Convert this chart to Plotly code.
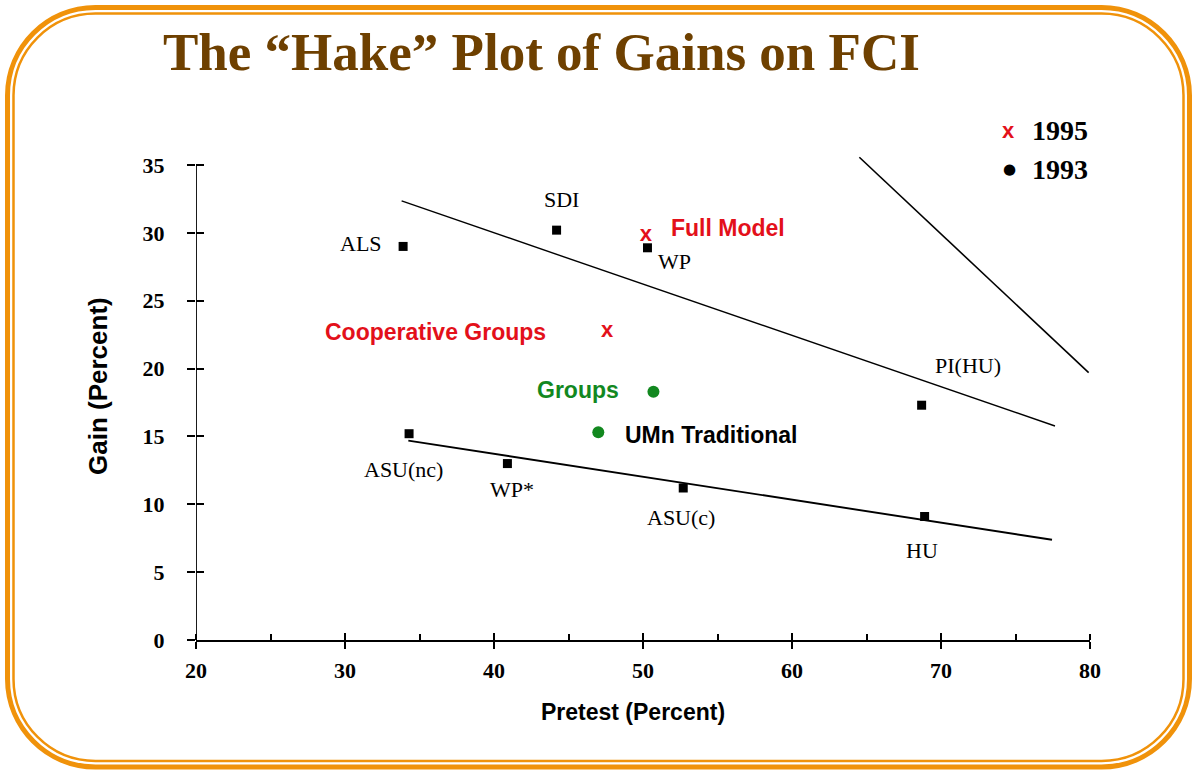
import plotly.graph_objects as go

W, H = 1197, 772

title_text = "The “Hake” Plot of Gains on FCI"
x_title = "Pretest (Percent)"
y_title = "Gain (Percent)"

# 1993 data (black squares)
sq_names = ["ALS", "SDI", "WP", "PI(HU)", "ASU(nc)", "WP*", "ASU(c)", "HU"]
sq_pretest = [33.9, 44.2, 50.3, 68.7, 34.3, 40.9, 52.7, 68.9]
sq_gain = [29.0, 30.2, 28.9, 17.3, 15.2, 13.0, 11.2, 9.1]

# 1995 data (red x)
x95_names = ["Full Model", "Cooperative Groups"]
x95_pretest = [50.2, 47.6]
x95_gain = [29.8, 22.7]

# 1993 UMn data (green dots)
g93_names = ["Groups", "UMn Traditional"]
g93_pretest = [50.7, 47.0]
g93_gain = [18.3, 15.3]

# fitted lines
fit_upper_x = [33.8, 77.65]
fit_upper_y = [32.35, 15.77]
fit_lower_x = [34.25, 77.45]
fit_lower_y = [14.69, 7.39]
fit_steep_x = [64.52, 79.91]
fit_steep_y = [35.57, 19.70]

x_ticks = [20, 30, 40, 50, 60, 70, 80]
y_ticks = [0, 5, 10, 15, 20, 25, 30, 35]

legend_labels = ["1995", "1993"]

# ---------------- styles ----------------
RED = "#E3101A"
GREEN = "#12881F"
BROWN = "#6E4000"
ORANGE = "#F0920A"
SERIF = "Liberation Serif, Times New Roman, serif"
SANS = "Liberation Sans, Arial, sans-serif"

sq_shift = {"ALS": (-42, 3), "SDI": (5, 31), "WP": (27, -14), "PI(HU)": (46, 40),
            "ASU(nc)": (-6, -36), "WP*": (5, -26), "ASU(c)": (-2, -29), "HU": (-3, -34)}
x95_style = {"Full Model": ("left", 23, 8, RED), "Cooperative Groups": ("right", -59, 0, RED)}
g93_style = {"Groups": ("right", -32, 2, GREEN), "UMn Traditional": ("left", 25, -3, "black")}

fig = go.Figure()

for lx, ly, lw in [(fit_upper_x, fit_upper_y, 1.4), (fit_lower_x, fit_lower_y, 1.9),
                   (fit_steep_x, fit_steep_y, 1.6)]:
    fig.add_trace(go.Scatter(x=lx, y=ly, mode="lines", line=dict(color="black", width=lw),
                             showlegend=False, hoverinfo="skip"))

fig.add_trace(go.Scatter(x=sq_pretest, y=sq_gain, mode="markers",
                         marker=dict(symbol="square", size=9, color="black"),
                         showlegend=False, cliponaxis=False))
fig.add_trace(go.Scatter(x=x95_pretest, y=x95_gain, mode="text", text=["x"] * len(x95_pretest),
                         textposition="middle center",
                         textfont=dict(family=SANS, size=22, color=RED, weight="bold"),
                         showlegend=False, cliponaxis=False))
fig.add_trace(go.Scatter(x=g93_pretest, y=g93_gain, mode="markers",
                         marker=dict(symbol="circle", size=12, color=GREEN),
                         showlegend=False, cliponaxis=False))
# invisible trace for overlay axes (crossing ticks)
fig.add_trace(go.Scatter(x=[None], y=[None], xaxis="x2", yaxis="y2", showlegend=False))

annotations = []
for n, x, y in zip(sq_names, sq_pretest, sq_gain):
    dx, dy = sq_shift[n]
    annotations.append(dict(x=x, y=y, xref="x", yref="y", text=n, showarrow=False,
                            xshift=dx, yshift=dy, font=dict(family=SERIF, size=22, color="black")))
for n, x, y in zip(x95_names, x95_pretest, x95_gain):
    anc, dx, dy, c = x95_style[n]
    annotations.append(dict(x=x, y=y, xref="x", yref="y", text="<b>%s</b>" % n, showarrow=False,
                            xanchor=anc, xshift=dx, yshift=dy, font=dict(family=SANS, size=23, color=c)))
for n, x, y in zip(g93_names, g93_pretest, g93_gain):
    anc, dx, dy, c = g93_style[n]
    annotations.append(dict(x=x, y=y, xref="x", yref="y", text="<b>%s</b>" % n, showarrow=False,
                            xanchor=anc, xshift=dx, yshift=dy, font=dict(family=SANS, size=23, color=c)))

# title
annotations.append(dict(x=541 / W, y=1 - 52 / H, xref="paper", yref="paper", text="<b>%s</b>" % title_text,
                        showarrow=False, xanchor="center", yanchor="middle",
                        font=dict(family=SERIF, size=53, color=BROWN)))
# axis titles
annotations.append(dict(x=633 / W, y=1 - 712 / H, xref="paper", yref="paper", text="<b>%s</b>" % x_title,
                        showarrow=False, xanchor="center", yanchor="middle",
                        font=dict(family=SANS, size=23, color="black")))
annotations.append(dict(x=98 / W, y=1 - 386 / H, xref="paper", yref="paper", text="<b>%s</b>" % y_title,
                        showarrow=False, xanchor="center", yanchor="middle", textangle=-90,
                        font=dict(family=SANS, size=26, color="black")))
# legend
annotations.append(dict(x=1008 / W, y=1 - 131 / H, xref="paper", yref="paper", text="<b>x</b>",
                        showarrow=False, xanchor="center", yanchor="middle",
                        font=dict(family=SANS, size=22, color=RED)))
annotations.append(dict(x=1009 / W, y=1 - 169 / H, xref="paper", yref="paper", text="●",
                        showarrow=False, xanchor="center", yanchor="middle",
                        font=dict(family="DejaVu Sans", size=15, color="black")))
for lab, py in zip(legend_labels, [131, 169]):
    annotations.append(dict(x=1030 / W, y=1 - py / H, xref="paper", yref="paper", text="<b>%s</b>" % lab,
                            showarrow=False, xanchor="left", yanchor="middle",
                            font=dict(family=SERIF, size=28, color="black")))


def px(x, y):
    return "%.5f,%.5f" % (x / W, 1 - y / H)


def rrect(x0, y0, x1, y1, r):
    k = 0.5523 * r
    return ("M " + px(x0 + r, y0) + " L " + px(x1 - r, y0) +
            " C " + px(x1 - r + k, y0) + " " + px(x1, y0 + r - k) + " " + px(x1, y0 + r) +
            " L " + px(x1, y1 - r) +
            " C " + px(x1, y1 - r + k) + " " + px(x1 - r + k, y1) + " " + px(x1 - r, y1) +
            " L " + px(x0 + r, y1) +
            " C " + px(x0 + r - k, y1) + " " + px(x0, y1 - r + k) + " " + px(x0, y1 - r) +
            " L " + px(x0, y0 + r) +
            " C " + px(x0, y0 + r - k) + " " + px(x0 + r - k, y0) + " " + px(x0 + r, y0) + " Z")


shapes = [
    dict(type="path", xref="paper", yref="paper", path=rrect(7.5, 7.5, 1189.5, 767, 88),
         line=dict(color=ORANGE, width=5), layer="below"),
    dict(type="path", xref="paper", yref="paper", path=rrect(13.5, 13.5, 1183.5, 761, 82),
         line=dict(color=ORANGE, width=2.5), layer="below"),
    # y axis line (0..35)
    dict(type="line", xref="x", yref="y", x0=x_ticks[0], x1=x_ticks[0], y0=y_ticks[0], y1=y_ticks[-1],
         line=dict(color="black", width=1.8), layer="above"),
]

x_dom = [196 / W, 1090 / W]
y_dom = [(H - 640) / H, (H - (640 - 35.7 * 475 / 35)) / H]

fig.update_layout(
    width=W, height=H, template="none",
    paper_bgcolor="white", plot_bgcolor="rgba(0,0,0,0)",
    margin=dict(l=0, r=0, t=0, b=0),
    showlegend=False,
    annotations=annotations, shapes=shapes,
    xaxis=dict(domain=x_dom, range=[20, 80], tickvals=x_ticks, ticks="outside", ticklen=7,
               tickwidth=1.8, tickcolor="black", showgrid=False, zeroline=False,
               showline=True, linecolor="black", linewidth=1.8, ticklabelstandoff=3,
               minor=dict(ticks="inside", ticklen=6, dtick=5, tickwidth=1.5, tickcolor="black", showgrid=False),
               tickfont=dict(family=SERIF, size=22, color="black", weight="bold"),
               automargin=False, fixedrange=True),
    yaxis=dict(domain=y_dom, range=[0, 35.7], tickvals=y_ticks, ticks="outside", ticklen=8,
               tickwidth=1.8, tickcolor="black", showgrid=False, zeroline=False,
               showline=False, ticklabelstandoff=18,
               tickfont=dict(family=SERIF, size=22, color="black", weight="bold"),
               automargin=False, fixedrange=True),
    xaxis2=dict(domain=x_dom, range=[20, 80], overlaying="x", anchor="y2", tickvals=x_ticks,
                ticks="inside", ticklen=7, tickwidth=1.8, tickcolor="black", showticklabels=False,
                showgrid=False, zeroline=False, showline=False, fixedrange=True),
    yaxis2=dict(domain=y_dom, range=[0, 35.7], overlaying="y", anchor="x2", tickvals=y_ticks,
                ticks="inside", ticklen=8, tickwidth=1.8, tickcolor="black", showticklabels=False,
                showgrid=False, zeroline=False, showline=False, fixedrange=True),
)

fig.write_html("out.html", post_script="document.body.style.margin='0';document.body.style.overflow='hidden';",
               config={"displayModeBar": False})
